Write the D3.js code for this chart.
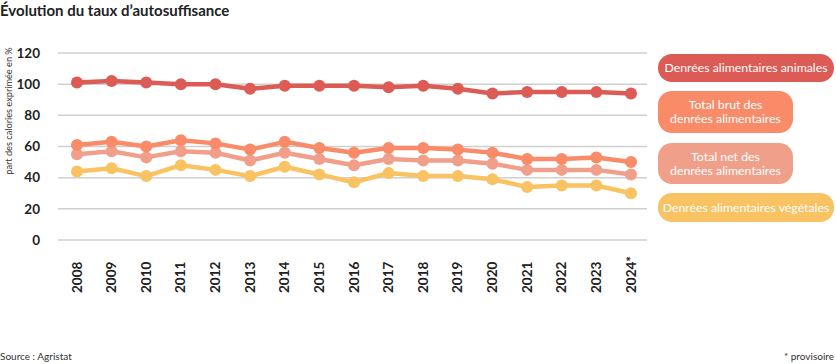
<!DOCTYPE html>
<html><head><meta charset="utf-8">
<script src="https://cdn.jsdelivr.net/npm/d3@7"></script>
<style>
body{margin:0;background:#fff;}
text{font-family:Lato,"Noto Sans",sans-serif;}
</style></head>
<body><svg id="c" width="836" height="364"></svg>
<script>
const years = ["2008","2009","2010","2011","2012","2013","2014","2015","2016","2017","2018","2019","2020","2021","2022","2023","2024*"];
const animales = [101,102,101,100,100,97,99,99,99,98,99,97,94,95,95,95,94];
const brut = [61,63,60,64,62,58,63,59,56,59,59,58,56,52,52,53,50];
const net = [55,57,53,57,56,51,56,52,48,52,51,51,49,45,45,45,42];
const vegetales = [44,46,41,48,45,41,47,42,37,43,41,41,39,34,35,35,30];
const seriesNames = ["Denrées alimentaires animales","Total brut des|denrées alimentaires","Total net des|denrées alimentaires","Denrées alimentaires végétales"];
const colors = ["#dc5b54","#f98b68","#f0a08a","#f9c262"];
const yTicks = [0,20,40,60,80,100,120];

const svg = d3.select("#c");
const x = d3.scalePoint().domain(years).range([77,631]);
const y = d3.scaleLinear().domain([0,120]).range([240,53]);

svg.append("text").attr("x",0).attr("y",16).attr("font-size",15).attr("font-weight","bold").attr("fill","#222").text("Évolution du taux d’autosuffisance");

// grid
svg.append("g").selectAll("line").data(yTicks).join("line")
  .attr("x1",58).attr("x2",647).attr("y1",d=>y(d)).attr("y2",d=>y(d))
  .attr("stroke","#d0d0d0").attr("stroke-width",1.5);
svg.append("g").selectAll("text").data(yTicks).join("text")
  .attr("x",40).attr("y",d=>y(d)).attr("dy","0.35em").attr("text-anchor","end")
  .attr("font-size",13.5).attr("font-weight","bold").attr("fill","#222").text(d=>d);
svg.append("g").selectAll("text").data(years).join("text")
  .attr("transform",d=>`translate(${x(d)+4.5},293) rotate(-90)`)
  .attr("text-anchor","start").attr("font-size",13.5).attr("font-weight","bold").attr("fill","#222").text(d=>d);
svg.append("text").attr("transform","translate(12,111) rotate(-90)").attr("text-anchor","middle")
  .attr("font-size",9.2).attr("fill","#333").text("part des calories exprimée en %");

const all = [animales,brut,net,vegetales];
const line = d3.line().x((d,i)=>x(years[i])).y(d=>y(d));
[3,2,1,0].forEach(k=>{
  const g = svg.append("g");
  g.append("path").datum(all[k]).attr("d",line).attr("fill","none").attr("stroke",colors[k]).attr("stroke-width",4.5).attr("stroke-linejoin","round");
  g.selectAll("circle").data(all[k]).join("circle").attr("cx",(d,i)=>x(years[i])).attr("cy",d=>y(d)).attr("r",6).attr("fill",colors[k]);
});

// legend
const pills = [{y:54,h:28,w:176},{y:91,h:42,w:135},{y:143,h:41,w:135},{y:193,h:29,w:176}];
pills.forEach((p,k)=>{
  const g = svg.append("g");
  g.append("rect").attr("x",658).attr("y",p.y).attr("width",p.w).attr("height",p.h).attr("rx",14).attr("fill",colors[k]);
  const lines = seriesNames[k].split("|");
  const cy = p.y+p.h/2;
  lines.forEach((t,i)=>{
    g.append("text").attr("x",658+p.w/2).attr("y",cy+(i-(lines.length-1)/2)*14).attr("dy","0.35em")
      .attr("text-anchor","middle").attr("font-size",12.3).attr("fill","#fff").text(t);
  });
});

svg.append("text").attr("x",0).attr("y",360).attr("font-size",10).attr("fill","#333").text("Source : Agristat");
svg.append("text").attr("x",834).attr("y",360).attr("text-anchor","end").attr("font-size",10).attr("fill","#333").text("* provisoire");
</script></body></html>
